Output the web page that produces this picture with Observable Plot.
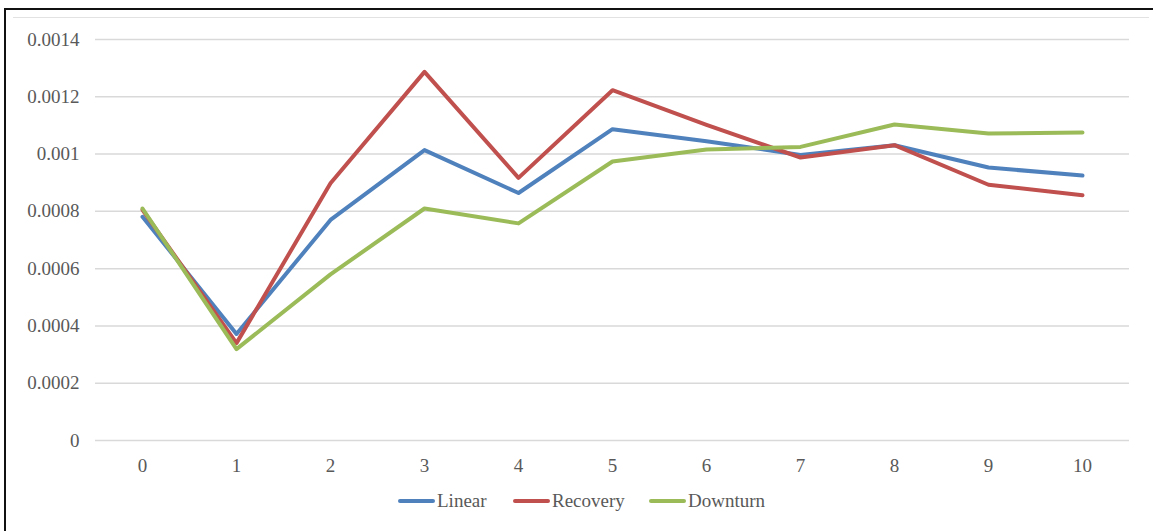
<!DOCTYPE html>
<html>
<head>
<meta charset="utf-8">
<script src="https://cdn.jsdelivr.net/npm/d3@7"></script>
<script src="https://cdn.jsdelivr.net/npm/@observablehq/plot@0.6"></script>
<style>
  html, body { margin: 0; padding: 0; background: #fff; }
  body { width: 1153px; height: 531px; position: relative; overflow: hidden; font-family: "Liberation Serif", "Times New Roman", serif; }
  #frameLeft { position: absolute; left: 4px; top: 8px; width: 2px; height: 523px; background: #111; }
  #frameTop { position: absolute; left: 4px; top: 8px; width: 1149px; height: 2px; background: #111; }
  #areaTop { position: absolute; left: 13px; top: 17px; width: 1136px; height: 1px; background: #e2e2e2; }
  #chart { position: absolute; left: 0; top: 0; }
  #legend { position: absolute; top: 488px; left: 0; width: 1153px; height: 26px; }
  .item { position: absolute; top: 0; display: flex; align-items: center; height: 26px; font-size: 19px; color: #595959; font-family: "Liberation Serif", "Times New Roman", serif; }
  .swatch { display: inline-block; width: 37px; height: 4px; border-radius: 2px; margin-right: 2px; }
</style>
</head>
<body>
<div id="frameLeft"></div>
<div id="frameTop"></div>
<div id="areaTop"></div>
<div id="chart"></div>
<div id="legend"></div>
<script>
const periods = [0, 1, 2, 3, 4, 5, 6, 7, 8, 9, 10];
const seriesNames = ["Linear", "Recovery", "Downturn"];
const seriesColors = ["#4F81BD", "#C0504D", "#9BBB59"];
const linear   = [0.000781, 0.000372, 0.000770, 0.001014, 0.000864, 0.001087, 0.001045, 0.000997, 0.001031, 0.000953, 0.000925];
const recovery = [0.000805, 0.000340, 0.000898, 0.001287, 0.000917, 0.001223, 0.001102, 0.000988, 0.001031, 0.000893, 0.000856];
const downturn = [0.000810, 0.000319, 0.000580, 0.000810, 0.000758, 0.000974, 0.001016, 0.001025, 0.001103, 0.001072, 0.001075];
const yTicks = [0, 0.0002, 0.0004, 0.0006, 0.0008, 0.001, 0.0012, 0.0014];
const yTickLabels = ["0", "0.0002", "0.0004", "0.0006", "0.0008", "0.001", "0.0012", "0.0014"];

const seriesValues = [linear, recovery, downturn];
const data = seriesNames.flatMap((name, s) =>
  periods.map((p, i) => ({period: p, value: seriesValues[s][i], series: name}))
);

const chart = Plot.plot({
  width: 1153,
  height: 480,
  marginLeft: 95,
  marginRight: 24,
  marginTop: 39,
  marginBottom: 40,
  style: {fontFamily: '"Liberation Serif", "Times New Roman", serif', fontSize: "19px", color: "#595959", background: "transparent"},
  x: {type: "point", domain: periods, padding: 0.5, label: null},
  y: {domain: [0, 0.0014], label: null},
  color: {domain: seriesNames, range: seriesColors},
  marks: [
    Plot.gridY(yTicks, {stroke: "#d9d9d9", strokeOpacity: 1, strokeWidth: 1.5}),
    Plot.axisY({ticks: yTicks, tickSize: 0, tickPadding: 16, tickFormat: (d) => yTickLabels[yTicks.indexOf(d)], fill: "#595959", fontSize: 19, label: null}),
    Plot.axisX({tickSize: 0, tickPadding: 18, fill: "#595959", fontSize: 19, label: null}),
    Plot.line(data, {x: "period", y: "value", z: "series", stroke: "series", strokeWidth: 4, strokeLinejoin: "round", strokeLinecap: "round"})
  ]
});
document.getElementById("chart").appendChild(chart);

const legendPos = [398, 513, 649];
const legend = document.getElementById("legend");
seriesNames.forEach((name, i) => {
  const item = document.createElement("div");
  item.className = "item";
  item.style.left = legendPos[i] + "px";
  const sw = document.createElement("span");
  sw.className = "swatch";
  sw.style.background = seriesColors[i];
  item.appendChild(sw);
  item.appendChild(document.createTextNode(name));
  legend.appendChild(item);
});
</script>
</body>
</html>
